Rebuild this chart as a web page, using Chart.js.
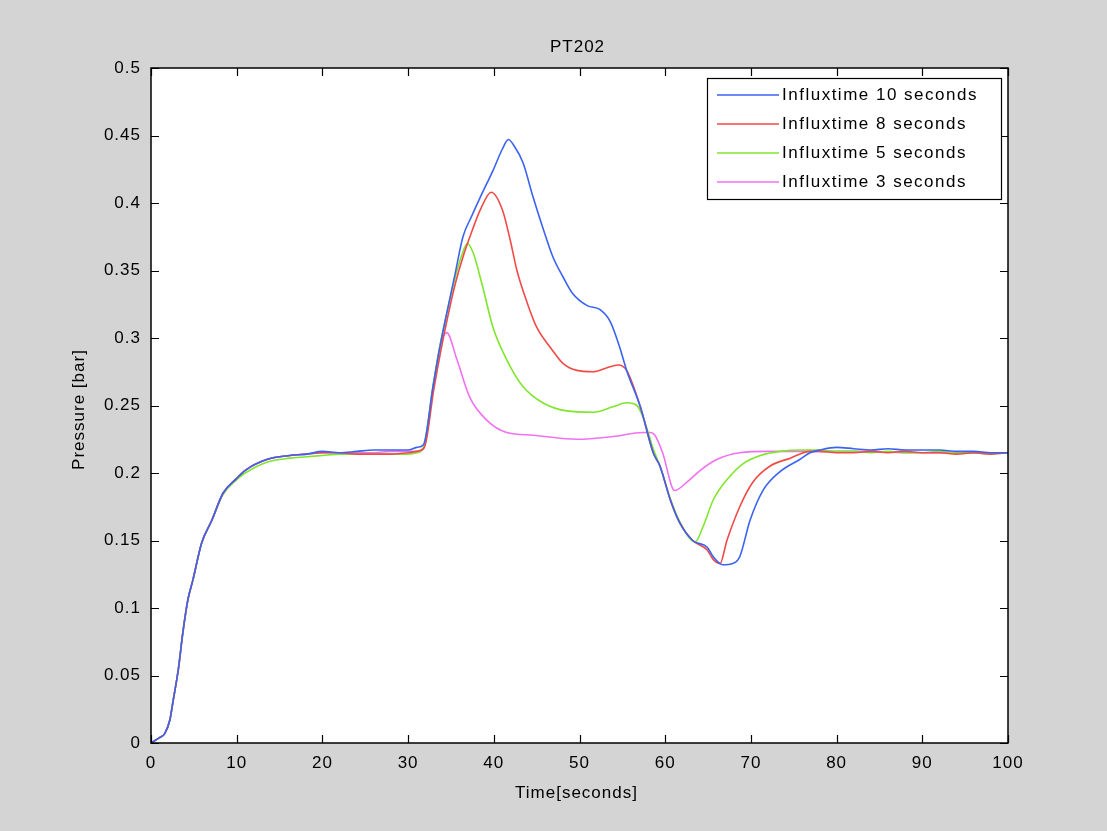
<!DOCTYPE html>
<html>
<head>
<meta charset="utf-8">
<script src="https://cdn.jsdelivr.net/npm/chart.js@4.4.1/dist/chart.umd.min.js"></script>
<style>
  html, body { margin: 0; padding: 0; background: #d4d4d4; }
  #wrap { width: 1107px; height: 831px; }
</style>
</head>
<body>
<div id="wrap"><canvas id="chart" width="1107" height="831"></canvas></div>
<script>
// values
const seriesLabels = ['Influxtime 10 seconds', 'Influxtime 8 seconds', 'Influxtime 5 seconds', 'Influxtime 3 seconds'];

const t10 = [0, 1, 1.6, 2.2, 2.6, 3.2, 3.7, 4.3, 4.9, 5.9, 7.1, 8.4, 10, 11, 13.5, 16.2, 18.2, 20, 22, 24, 26, 28, 30, 31, 31.8, 32.9, 33.7, 34.5, 35.5, 36.4, 37.4, 38.4, 39.9, 41, 41.7, 42.4, 43.4, 44.6, 45.7, 46.9, 48.1, 49.2, 50.9, 52.4, 53.6, 54.7, 55.5, 57.1, 58.6, 59.4, 60.6, 61.7, 63.2, 64.9, 65.6, 66.7, 67.9, 68.7, 69.9, 71.4, 73.4, 75.7, 76.9, 78, 80, 82, 84, 86, 88, 90, 92, 94, 96, 98, 100];
const p10 = [0, 0.004, 0.007, 0.017, 0.032, 0.055, 0.081, 0.106, 0.121, 0.148, 0.165, 0.185, 0.196, 0.202, 0.210, 0.213, 0.214, 0.216, 0.215, 0.216, 0.217, 0.217, 0.217, 0.219, 0.221, 0.264, 0.293, 0.318, 0.348, 0.375, 0.390, 0.404, 0.424, 0.440, 0.447, 0.442, 0.430, 0.404, 0.382, 0.360, 0.345, 0.333, 0.324, 0.321, 0.312, 0.293, 0.276, 0.249, 0.215, 0.205, 0.180, 0.163, 0.150, 0.145, 0.138, 0.132, 0.133, 0.138, 0.165, 0.187, 0.201, 0.210, 0.215, 0.217, 0.219, 0.218, 0.217, 0.218, 0.217, 0.217, 0.217, 0.216, 0.216, 0.215, 0.215];

const t8 = [0, 1, 1.6, 2.2, 2.6, 3.2, 3.7, 4.3, 4.9, 5.9, 7.1, 8.4, 10, 11, 13.5, 16.2, 18.2, 20, 22, 24, 26, 28, 30, 31, 31.9, 33, 33.8, 34.6, 35.5, 36.5, 37.5, 38.5, 39.7, 41, 41.9, 42.7, 43.9, 45, 46.6, 48.1, 49.7, 51.6, 53.2, 54.5, 55.5, 57.1, 58.6, 59.4, 60.6, 61.7, 63.2, 64.9, 65.6, 66.4, 67.2, 68.7, 70.2, 72.2, 74.6, 76.9, 78, 80, 82, 84, 86, 88, 90, 92, 94, 96, 98, 100];
const p8 = [0, 0.004, 0.007, 0.017, 0.032, 0.055, 0.081, 0.106, 0.121, 0.148, 0.165, 0.185, 0.196, 0.202, 0.210, 0.213, 0.214, 0.215, 0.215, 0.214, 0.214, 0.214, 0.215, 0.216, 0.219, 0.262, 0.290, 0.315, 0.340, 0.362, 0.380, 0.396, 0.408, 0.395, 0.373, 0.350, 0.326, 0.308, 0.293, 0.281, 0.276, 0.275, 0.278, 0.280, 0.276, 0.249, 0.215, 0.205, 0.180, 0.163, 0.150, 0.143, 0.136, 0.133, 0.150, 0.175, 0.193, 0.205, 0.211, 0.216, 0.216, 0.215, 0.215, 0.216, 0.215, 0.216, 0.215, 0.215, 0.214, 0.215, 0.214, 0.215];

const t5 = [0, 1, 1.6, 2.2, 2.6, 3.2, 3.7, 4.3, 4.9, 5.9, 7.1, 8.4, 10, 11, 13.5, 16.2, 18.2, 20, 22, 24, 26, 28, 30, 31, 31.8, 32.9, 33.7, 34.5, 35.5, 36.3, 36.9, 37.6, 38.7, 39.9, 41.5, 43.4, 45.7, 48.5, 51.6, 53.9, 55.5, 56.7, 57.5, 58.6, 59.4, 60.6, 61.7, 63.5, 64.4, 65.6, 67.2, 69.1, 71.1, 73.4, 76, 78, 80, 82, 84, 86, 88, 90, 92, 94, 96, 98, 100];
const p5 = [0, 0.004, 0.007, 0.017, 0.032, 0.055, 0.081, 0.106, 0.121, 0.148, 0.165, 0.184, 0.195, 0.200, 0.208, 0.211, 0.212, 0.213, 0.214, 0.214, 0.214, 0.214, 0.214, 0.215, 0.219, 0.264, 0.294, 0.318, 0.345, 0.362, 0.370, 0.363, 0.338, 0.308, 0.284, 0.264, 0.252, 0.246, 0.245, 0.249, 0.252, 0.250, 0.240, 0.218, 0.205, 0.181, 0.164, 0.149, 0.160, 0.180, 0.195, 0.207, 0.213, 0.216, 0.217, 0.217, 0.216, 0.216, 0.215, 0.216, 0.215, 0.215, 0.216, 0.215, 0.215, 0.214, 0.215];

const t3 = [0, 1, 1.6, 2.2, 2.6, 3.2, 3.7, 4.3, 4.9, 5.9, 7.1, 8.4, 10, 11, 13.5, 16.2, 18.2, 20, 22, 24, 26, 28, 30, 31, 31.8, 32.9, 33.7, 34.5, 35.7, 37.2, 39.2, 41.5, 44.6, 49.7, 53.9, 57.4, 58.2, 58.8, 59.7, 61.1, 62.5, 64.1, 66, 68.7, 72, 76, 80, 84, 88, 92, 96, 100];
const p3 = [0, 0.004, 0.007, 0.017, 0.032, 0.055, 0.081, 0.106, 0.121, 0.148, 0.165, 0.185, 0.196, 0.202, 0.210, 0.213, 0.214, 0.215, 0.215, 0.215, 0.215, 0.216, 0.216, 0.216, 0.218, 0.262, 0.293, 0.304, 0.284, 0.256, 0.239, 0.230, 0.228, 0.225, 0.227, 0.230, 0.230, 0.228, 0.215, 0.187, 0.193, 0.202, 0.210, 0.215, 0.216, 0.216, 0.216, 0.216, 0.215, 0.215, 0.215, 0.215];

const xTicks = [0, 10, 20, 30, 40, 50, 60, 70, 80, 90, 100];
const yTicks = [0, 0.05, 0.1, 0.15, 0.2, 0.25, 0.3, 0.35, 0.4, 0.45, 0.5];

const colors = ['#3b62f2', '#f04a48', '#80e62c', '#f072f0'];
const FONT = '"Liberation Sans", Arial, sans-serif';
const SPACING = '1px';

const toPoints = (ts, ps) => ts.map((x, i) => ({ x, y: ps[i] }));
const allSeries = [[t10, p10], [t8, p8], [t5, p5], [t3, p3]];

// MATLAB-like frame: grey figure, white axes, inward ticks, legend box, titles
const matlabFrame = {
  id: 'matlabFrame',
  beforeUpdate(chart) { chart.ctx.letterSpacing = SPACING; },
  beforeDraw(chart) {
    const { ctx, chartArea: a } = chart;
    ctx.letterSpacing = SPACING;
    ctx.save();
    ctx.fillStyle = '#d4d4d4';
    ctx.fillRect(0, 0, chart.width, chart.height);
    ctx.fillStyle = '#ffffff';
    ctx.fillRect(a.left, a.top, a.right - a.left, a.bottom - a.top);
    ctx.restore();
  },
  afterDraw(chart) {
    const { ctx, chartArea: a, scales } = chart;
    ctx.save();
    ctx.strokeStyle = '#000';
    ctx.lineWidth = 1.5;
    ctx.strokeRect(a.left, a.top, a.right - a.left, a.bottom - a.top);
    ctx.lineWidth = 1.2;
    ctx.beginPath();
    xTicks.forEach((v) => {
      const px = Math.round(scales.x.getPixelForValue(v)) + 0.5;
      ctx.moveTo(px, a.bottom); ctx.lineTo(px, a.bottom - 8);
      ctx.moveTo(px, a.top); ctx.lineTo(px, a.top + 8);
    });
    yTicks.forEach((v) => {
      const py = Math.round(scales.y.getPixelForValue(v)) + 0.5;
      ctx.moveTo(a.left, py); ctx.lineTo(a.left + 8, py);
      ctx.moveTo(a.right, py); ctx.lineTo(a.right - 8, py);
    });
    ctx.stroke();

    // titles
    const cx = (a.left + a.right) / 2;
    ctx.fillStyle = '#000';
    ctx.font = '17px ' + FONT;
    ctx.textAlign = 'center';
    ctx.textBaseline = 'middle';
    ctx.fillText('PT202', cx - 2, 47);
    ctx.fillText('Time[seconds]', cx - 3, 793);
    ctx.save();
    ctx.translate(79, (a.top + a.bottom) / 2 + 4);
    ctx.rotate(-Math.PI / 2);
    ctx.fillText('Pressure [bar]', 0, 0);
    ctx.restore();

    // legend
    const lx = 707, ly = 78, lw = 294, lh = 121;
    ctx.fillStyle = '#fff';
    ctx.fillRect(lx, ly, lw, lh);
    ctx.strokeStyle = '#000';
    ctx.lineWidth = 1.2;
    ctx.strokeRect(lx + 0.5, ly + 0.5, lw, lh);
    ctx.textAlign = 'left';
    ctx.letterSpacing = '1.5px';
    chart.data.datasets.forEach((ds, i) => {
      const y = 95 + i * 29;
      ctx.strokeStyle = ds.borderColor;
      ctx.lineWidth = 1.5;
      ctx.beginPath();
      ctx.moveTo(717, y); ctx.lineTo(779, y);
      ctx.stroke();
      ctx.fillStyle = '#000';
      ctx.fillText(ds.label, 782, y);
    });
    ctx.restore();
  },
};

new Chart(document.getElementById('chart'), {
  type: 'line',
  data: {
    datasets: allSeries.map(([ts, ps], i) => ({
      label: seriesLabels[i],
      data: toPoints(ts, ps),
      borderColor: colors[i],
      borderWidth: 1.6,
      pointRadius: 0,
      cubicInterpolationMode: 'monotone',
      fill: false,
    })),
  },
  options: {
    responsive: false,
    animation: false,
    layout: { padding: { top: 68, right: 99, left: 0, bottom: 0 } },
    plugins: { legend: { display: false }, title: { display: false }, tooltip: { enabled: false } },
    scales: {
      x: {
        type: 'linear',
        min: 0,
        max: 100,
        afterFit: (s) => { s.height = 88; },
        afterBuildTicks: (s) => { s.ticks = xTicks.map((value) => ({ value })); },
        grid: { display: false, drawTicks: false },
        border: { display: false },
        ticks: { color: '#000', font: { family: FONT, size: 17 }, padding: 10, maxRotation: 0 },
      },
      y: {
        min: 0,
        max: 0.5,
        afterFit: (s) => { s.width = 151; },
        afterBuildTicks: (s) => { s.ticks = yTicks.map((value) => ({ value })); },
        grid: { display: false, drawTicks: false },
        border: { display: false },
        ticks: { color: '#000', font: { family: FONT, size: 17 }, padding: 10, callback: (v) => String(+v.toFixed(2)) },
      },
    },
  },
  plugins: [matlabFrame],
});
</script>
</body>
</html>
